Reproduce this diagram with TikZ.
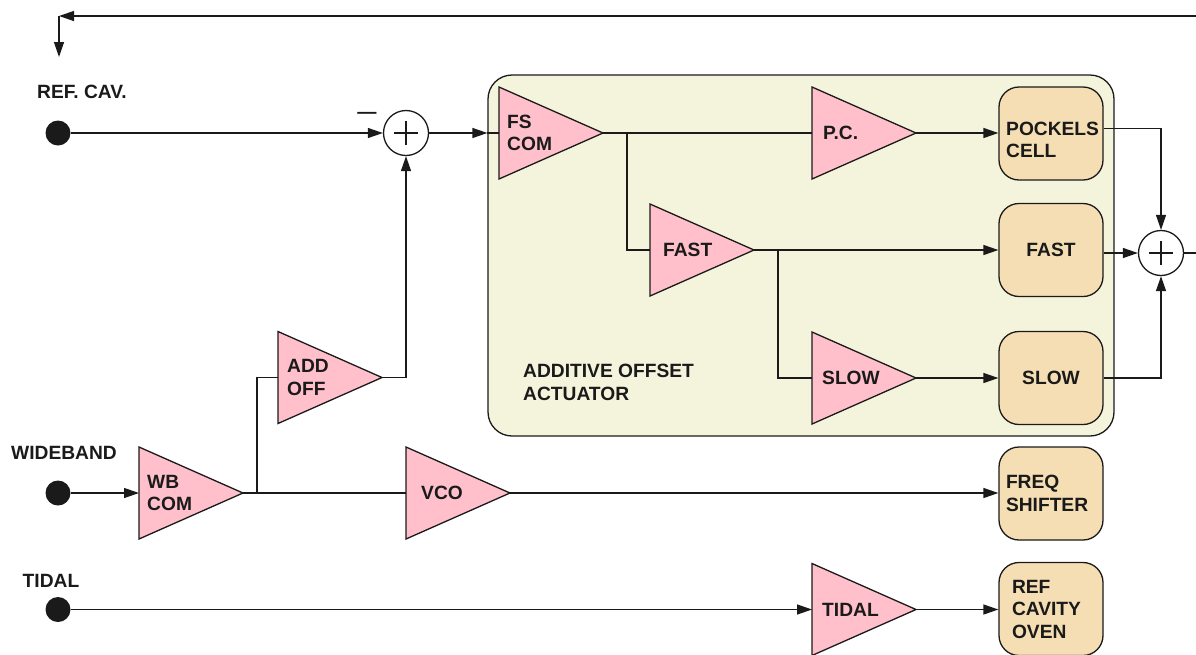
\documentclass[tikz,border=0pt]{standalone}
\usepackage{fontspec}
\setmainfont{Liberation Sans}
\usetikzlibrary{arrows.meta}
\definecolor{ampfill}{HTML}{FFC0CB}
\definecolor{boxfill}{HTML}{F5DEB3}
\definecolor{aoafill}{HTML}{F4F4DC}
\definecolor{ink}{HTML}{1A1A1A}
\newcommand{\ampl}[5]{% name, left x, center y, text, text offset
  \draw[ampshape] (#2,#3-46) -- (#2+104,#3) -- (#2,#3+46) -- cycle;
  \coordinate (#1-in) at (#2,#3);
  \coordinate (#1-out) at (#2+104,#3);
  \node[amptext] (#1) at (#2+#5,#3) {#4};
}
\tikzset{
  every node/.style={font=\fontsize{19.2}{22.5}\selectfont\bfseries, text=ink},
  ampshape/.style={draw=ink, line width=1.3pt, fill=ampfill, line join=miter},
  amptext/.style={anchor=west, align=left, inner sep=0pt},
  tanbox/.style={draw=ink, line width=1.3pt, fill=boxfill, rounded corners=20pt,
    minimum width=104pt, minimum height=93pt, inner ysep=0pt, inner xsep=7pt,
    text width=90pt, align=left},
  tanctr/.style={tanbox, align=center},
  aoabox/.style={draw=ink, line width=1.3pt, fill=aoafill, rounded corners=24pt,
    minimum width=626pt, minimum height=361pt, inner sep=0pt},
  sumnode/.style={circle, draw=ink, line width=1.3pt, minimum size=45pt, inner sep=0pt, fill=white,
    path picture={\draw[ink, line width=1.3pt]
      ([xshift=-12pt]path picture bounding box.center) -- ([xshift=12pt]path picture bounding box.center)
      ([yshift=-12pt]path picture bounding box.center) -- ([yshift=12pt]path picture bounding box.center);}},
  dotnode/.style={circle, fill=ink, minimum size=25pt, inner sep=0pt},
  lbl/.style={inner sep=0pt},
  wire/.style={line width=1.3pt, draw=ink},
  arr/.style={wire, -{Triangle[length=15pt,width=10pt]}},
}
\begin{document}
\begin{tikzpicture}[x=1pt, y=-1pt]
\useasboundingbox (0,0) rectangle (1196,654);
% actuator group
\node[aoabox] (aoa) at (801,255.5) {};
\node[amptext] (aoalabel) at (523,382.5) {ADDITIVE OFFSET\\ACTUATOR};
% inputs
\node[dotnode] (refdot) at (58,133) {};
\node[dotnode] (wbdot) at (58,493) {};
\node[dotnode] (tidaldot) at (58,609.5) {};
\node[lbl] (reflbl) at (82,92) {REF. CAV.};
\node[lbl] (wblbl) at (64,452.5) {WIDEBAND};
\node[lbl] (tidallbl) at (51,580.5) {TIDAL};
% summing junctions
\node[sumnode] (sum1) at (406,133) {};
\node[lbl, anchor=base] (minus) at (367,118.5) {—};
\node[sumnode] (sum2) at (1161,253) {};
% amplifiers
\ampl{fs}{499}{133}{FS\\COM}{8}
\ampl{pc}{812}{133}{P.C.}{11}
\ampl{fast}{650}{250}{FAST}{13}
\ampl{slow}{812}{378}{SLOW}{10}
\ampl{add}{278}{377.5}{ADD\\OFF}{9}
\ampl{wb}{139}{493}{WB\\COM}{8}
\ampl{vco}{406}{493}{VCO}{15}
\ampl{tidal}{812}{609.5}{TIDAL}{10}
% actuator boxes
\node[tanbox] (pcell) at (1051,133.5) {};
\node[amptext] (pcelltext) at (1006,140) {POCKELS\\CELL};
\node[tanctr] (fastbox) at (1051,250) {FAST};
\node[tanctr] (slowbox) at (1051,378) {SLOW};
\node[tanbox] (freq) at (1051,493.5) {FREQ\\SHIFTER};
\node[tanbox, inner xsep=13pt, text width=78pt] (oven) at (1051,609) {REF\\CAVITY\\OVEN};
% feedback coordinates
\coordinate (fbR) at (1196,16);
\coordinate (fbL) at (59,16);
\coordinate (fbD) at (59,57);
\coordinate (sumout) at (1196,253);
\coordinate (fsbr) at (627,133);
\coordinate (fastbr) at (778,250);
\coordinate (wbbr) at (257,493);
% connectors
\draw[arr] (fbR) -- (fbL);
\draw[arr] (fbL) -- (fbD);
\draw[arr] (refdot) -- (sum1);
\draw[arr] (sum1) -- (aoa.west |- sum1);
\draw[wire] (aoa.west |- sum1) -- (fs-in);
\draw[wire] (fs-out) -- (pc-in);
\draw[wire] (fsbr) |- (fast-in);
\draw[arr] (pc-out) -- (pcell.west |- pc-out);
\draw[arr] (fast-out) -- (fastbox.west);
\draw[wire] (fastbr) |- (slow-in);
\draw[arr] (slow-out) -- (slowbox.west);
\draw[arr] ([yshift=5pt]pcell.east) -| (sum2.north);
\draw[arr] (fastbox.east |- sum2) -- (sum2);
\draw[arr] (slowbox.east) -| (sum2.south);
\draw[wire] (sum2) -- (sumout);
\draw[arr] (add-out) -| (sum1.south);
\draw[arr] (wbdot) -- (wb-in);
\draw[wire] (wb-out) -- (vco-in);
\draw[wire] (wbbr) |- (add-in);
\draw[arr] (vco-out) -- (freq.west |- vco-out);
\draw[arr] (tidaldot) -- (tidal-in);
\draw[arr] (tidal-out) -- (oven.west |- tidal-out);
\end{tikzpicture}
\end{document}
